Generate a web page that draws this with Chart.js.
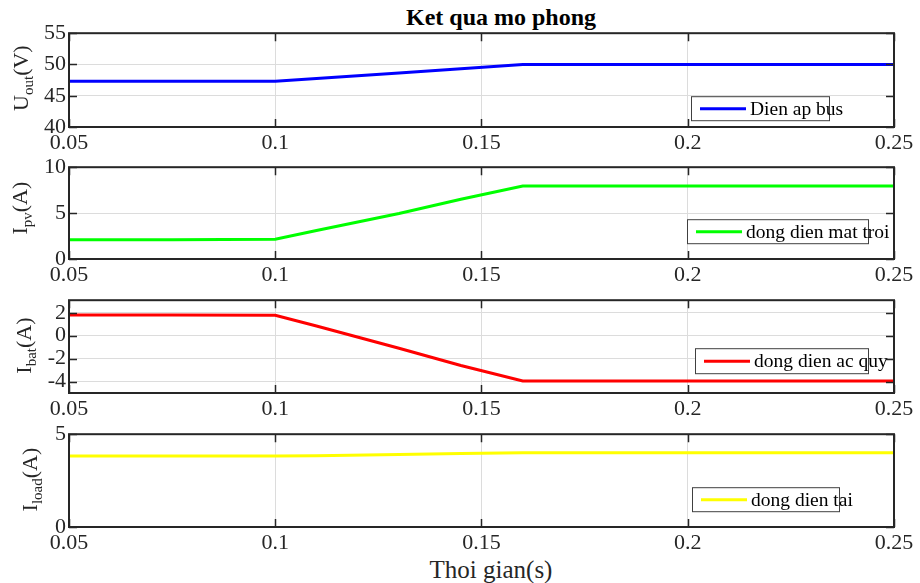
<!DOCTYPE html>
<html>
<head>
<meta charset="utf-8">
<script src="https://cdn.jsdelivr.net/npm/chart.js@4.4.1/dist/chart.umd.min.js"></script>
<style>
    body { margin: 0; width: 920px; height: 583px; background: #fff; position: relative; overflow: hidden; font-family: "Liberation Serif", serif; }
    canvas { position: absolute; left: 0; }
    #title { position: absolute; top: 5px; left: 351px; width: 300px; text-align: center; font-weight: bold; font-size: 24px; line-height: 24px; color: #000; }
    #xlabel { position: absolute; top: 557px; left: 391px; width: 200px; text-align: center; font-size: 25px; line-height: 25px; color: #262626; }
</style>
</head>
<body>
<div id="title">Ket qua mo phong</div>
<div id="xlabel">Thoi gian(s)</div>
<script>
// cas (s)
const timeS = [0.05, 0.075, 0.1, 0.11, 0.13, 0.145, 0.16, 0.2, 0.25];

// namerene hodnoty
const uOut = [47.3, 47.3, 47.3, 47.75, 48.65, 49.3, 50.0, 50.0, 50.0];
const iPv = [2.1, 2.1, 2.15, 3.1, 4.95, 6.5, 7.95, 7.95, 7.95];
const iBat = [1.8, 1.8, 1.78, 0.85, -1.1, -2.6, -3.95, -3.95, -3.95];
const iLoad = [3.82, 3.82, 3.82, 3.84, 3.9, 3.96, 4.0, 4.0, 4.0];

// popisky os
const xTicks = [0.05, 0.1, 0.15, 0.2, 0.25];
const uOutTicks = [40, 45, 50, 55];
const iPvTicks = [0, 5, 10];
const iBatTicks = [-4, -2, 0, 2];
const iLoadTicks = [0, 5];

const seriesNames = ['Dien ap bus', 'dong dien mat troi', 'dong dien ac quy', 'dong dien tai'];

const axisColor = '#262626';
const gridColor = '#dcdcdc';
const padTop = 16;
const xAxisHeight = 32;

const panels = [
    { values: uOut, ticks: uOutTicks, min: 40, max: 55, color: '#0000ff', top: 33, bottom: 127,
      label: ['U', 'out', '(V)'], labelX: 28, labelShift: -2, legendBox: [622, 63, 138, 24] },
    { values: iPv, ticks: iPvTicks, min: 0, max: 10, color: '#00ff00', top: 167, bottom: 259,
      label: ['I', 'pv', '(A)'], labelX: 27, labelShift: -5, legendBox: [618, 52, 181, 24] },
    { values: iBat, ticks: iBatTicks, min: -5, max: 3.1, color: '#ff0000', top: 300, bottom: 393,
      label: ['I', 'bat', '(A)'], labelX: 31, labelShift: -1, legendBox: [626, 48, 173, 25] },
    { values: iLoad, ticks: iLoadTicks, min: 0, max: 5, color: '#ffff00', top: 434, bottom: 527,
      label: ['I', 'load', '(A)'], labelX: 37, labelShift: -1, legendBox: [623, 53, 147, 24] }
];

// ramecek, ticky dovnitr, legenda a popisek osy y
const framePlugin = {
    id: 'frame',
    afterDatasetsDraw(chart, args, opts) {
        const { ctx, chartArea: a, scales } = chart;
        ctx.save();
        ctx.strokeStyle = axisColor;
        ctx.lineWidth = 1.5;
        ctx.beginPath();
        scales.x.ticks.forEach(t => {
            const px = Math.round(scales.x.getPixelForValue(t.value)) + 0.5;
            ctx.moveTo(px, a.bottom); ctx.lineTo(px, a.bottom - 8);
            ctx.moveTo(px, a.top); ctx.lineTo(px, a.top + 8);
        });
        scales.y.ticks.forEach(t => {
            const py = Math.round(scales.y.getPixelForValue(t.value)) + 0.5;
            ctx.moveTo(a.left, py); ctx.lineTo(a.left + 8, py);
            ctx.moveTo(a.right, py); ctx.lineTo(a.right - 8, py);
        });
        ctx.stroke();
        ctx.lineWidth = 2;
        ctx.strokeRect(a.left, a.top, a.right - a.left, a.bottom - a.top);

        // legenda
        const [dx, dy, w, h] = opts.box;
        const bx = a.left + dx, by = a.top + dy;
        ctx.fillStyle = '#fff';
        ctx.fillRect(bx, by, w, h);
        ctx.lineWidth = 1;
        ctx.strokeStyle = '#404040';
        ctx.strokeRect(bx + 0.5, by + 0.5, w, h);
        ctx.strokeStyle = opts.color;
        ctx.lineWidth = 3;
        ctx.beginPath();
        ctx.moveTo(bx + 9, by + h / 2 + 0.5);
        ctx.lineTo(bx + 55, by + h / 2 + 0.5);
        ctx.stroke();
        ctx.fillStyle = '#000';
        ctx.font = '19.5px "Liberation Serif"';
        ctx.textBaseline = 'alphabetic';
        ctx.textAlign = 'left';
        ctx.fillText(opts.name, bx + 59, by + h / 2 + 6.5);

        // popisek osy y s indexem
        const [main, sub, rest] = opts.label;
        const mainFont = '22px "Liberation Serif"';
        const subFont = '15px "Liberation Serif"';
        ctx.font = mainFont;
        const w1 = ctx.measureText(main).width;
        const w3 = ctx.measureText(rest).width;
        ctx.font = subFont;
        const w2 = ctx.measureText(sub).width;
        const total = w1 + w2 + w3;
        ctx.translate(opts.labelX, (a.top + a.bottom) / 2 + opts.labelShift);
        ctx.rotate(-Math.PI / 2);
        ctx.fillStyle = axisColor;
        let sx = -total / 2;
        ctx.font = mainFont;
        ctx.fillText(main, sx, 0);
        ctx.font = subFont;
        ctx.fillText(sub, sx + w1, 5);
        ctx.font = mainFont;
        ctx.fillText(rest, sx + w1 + w2, 0);
        ctx.restore();
    }
};

panels.forEach((p, i) => {
    const canvas = document.createElement('canvas');
    const height = (p.bottom - p.top) + padTop + xAxisHeight;
    canvas.width = 920;
    canvas.height = height;
    canvas.style.top = (p.top - padTop) + 'px';
    document.body.appendChild(canvas);

    const tickFont = { family: '"Liberation Serif"', size: 22 };

    new Chart(canvas, {
        type: 'line',
        data: {
            datasets: [{
                label: seriesNames[i],
                data: timeS.map((t, k) => ({ x: t, y: p.values[k] })),
                borderColor: p.color,
                borderWidth: 3,
                pointRadius: 0,
                tension: 0
            }]
        },
        options: {
            responsive: false,
            animation: false,
            layout: { padding: { top: padTop, right: 26, left: 0, bottom: 0 } },
            plugins: {
                legend: { display: false },
                tooltip: { enabled: false },
                frame: { box: p.legendBox, color: p.color, name: seriesNames[i], label: p.label, labelX: p.labelX, labelShift: p.labelShift }
            },
            scales: {
                x: {
                    type: 'linear',
                    min: 0.05,
                    max: 0.25,
                    afterFit: s => { s.height = xAxisHeight; },
                    afterBuildTicks: s => { s.ticks = xTicks.map(v => ({ value: v })); },
                    grid: { color: gridColor, lineWidth: 1, drawTicks: false },
                    border: { display: false },
                    ticks: { font: tickFont, color: axisColor, padding: 3, maxRotation: 0, autoSkip: false, callback: v => String(v) }
                },
                y: {
                    type: 'linear',
                    min: p.min,
                    max: p.max,
                    afterFit: s => { s.width = 69; },
                    afterBuildTicks: s => { s.ticks = p.ticks.map(v => ({ value: v })); },
                    grid: { color: gridColor, lineWidth: 1, drawTicks: false },
                    border: { display: false },
                    ticks: { font: tickFont, color: axisColor, padding: 3, autoSkip: false, callback: v => String(v) }
                }
            }
        },
        plugins: [framePlugin]
    });
});
</script>
</body>
</html>
